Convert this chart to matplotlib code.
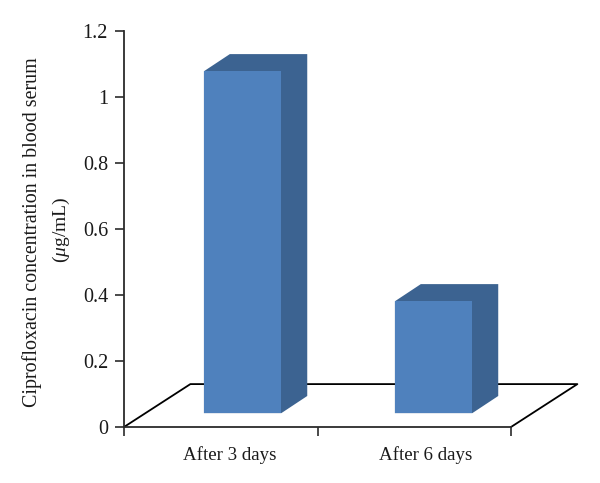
"""Ciprofloxacin concentration in blood serum, pseudo-3D column chart."""

import matplotlib
matplotlib.use("Agg")
import matplotlib.pyplot as plt

categories = ["After 3 days", "After 6 days"]
values = [1.036, 0.339]
y_ticks = [0, 0.2, 0.4, 0.6, 0.8, 1, 1.2]
y_tick_labels = ["0", "0.2", "0.4", "0.6", "0.8", "1", "1.2"]

FRONT = "#4f81bd"
SIDE = "#3c6391"
AXIS = "#2b2b2b"
TEXT = "#1a1a1a"

# sizes of the 3D look, in data units
FLOOR_DX, FLOOR_DY = 0.343, 0.130
BAR_DX, BAR_DY = 0.134, 0.052
BAR_WIDTH = 0.40
BAR_START = 0.413
BAR_STEP = 0.987
BAR_BASE = 0.042
LABEL_START = 0.545
LABEL_STEP = 1.015

plt.rcParams["font.family"] = ["Liberation Serif", "DejaVu Serif"]
plt.rcParams["mathtext.fontset"] = "custom"
plt.rcParams["mathtext.rm"] = "Liberation Serif"
plt.rcParams["mathtext.it"] = "Liberation Serif:italic"

fig = plt.figure(figsize=(6, 4.83), dpi=100)
ax = fig.add_axes([124 / 600, 1 - 427 / 483, 387 / 600, 396 / 483])
n = len(categories)
ax.set_xlim(0, n)
ax.set_ylim(0, 1.2)

# floor
ax.plot(
    [0, FLOOR_DX, n + FLOOR_DX, n],
    [0, FLOOR_DY, FLOOR_DY, 0],
    color="black", lw=1.3, clip_on=False, zorder=1,
)

# bars: top and side as one shape, then the front face
for i, v in enumerate(values):
    x0 = BAR_START + i * BAR_STEP
    x1 = x0 + BAR_WIDTH
    y0 = BAR_BASE
    y1 = BAR_BASE + v
    ax.fill(
        [x0, x0 + BAR_DX, x1 + BAR_DX, x1 + BAR_DX, x1, x0],
        [y1, y1 + BAR_DY, y1 + BAR_DY, y0 + BAR_DY, y0, y0],
        color=SIDE, lw=0, clip_on=False, zorder=2,
    )
    ax.fill([x0, x1, x1, x0], [y0, y0, y1, y1], color=FRONT, lw=0, zorder=3)

ax.spines["top"].set_visible(False)
ax.spines["right"].set_visible(False)
for side in ["left", "bottom"]:
    ax.spines[side].set_color(AXIS)
    ax.spines[side].set_linewidth(1.3)

ax.set_yticks(y_ticks)
ax.set_yticklabels(y_tick_labels)
ax.set_xticks(range(n + 1))
ax.set_xticklabels([])
ax.set_xticks([LABEL_START + i * LABEL_STEP for i in range(n)], categories, minor=True)
ax.tick_params(axis="both", which="major", length=6.5, width=1.2, color=AXIS)
ax.tick_params(axis="y", which="major", labelsize=14.5, labelcolor=TEXT, pad=5)
ax.tick_params(axis="x", which="minor", length=0, labelsize=13.6,
               labelcolor=TEXT, pad=14)

fig.text(
    32.5 / 600, 1 - 232 / 483, "Ciprofloxacin concentration in blood serum",
    rotation=90, ha="center", va="center", fontsize=14.4, color=TEXT,
)
fig.text(
    61.5 / 600, 1 - 230 / 483, r"($\mathit{\mu}$g/mL)",
    rotation=90, ha="center", va="center", fontsize=14, color=TEXT,
)

fig.savefig("out.png", dpi=100)
